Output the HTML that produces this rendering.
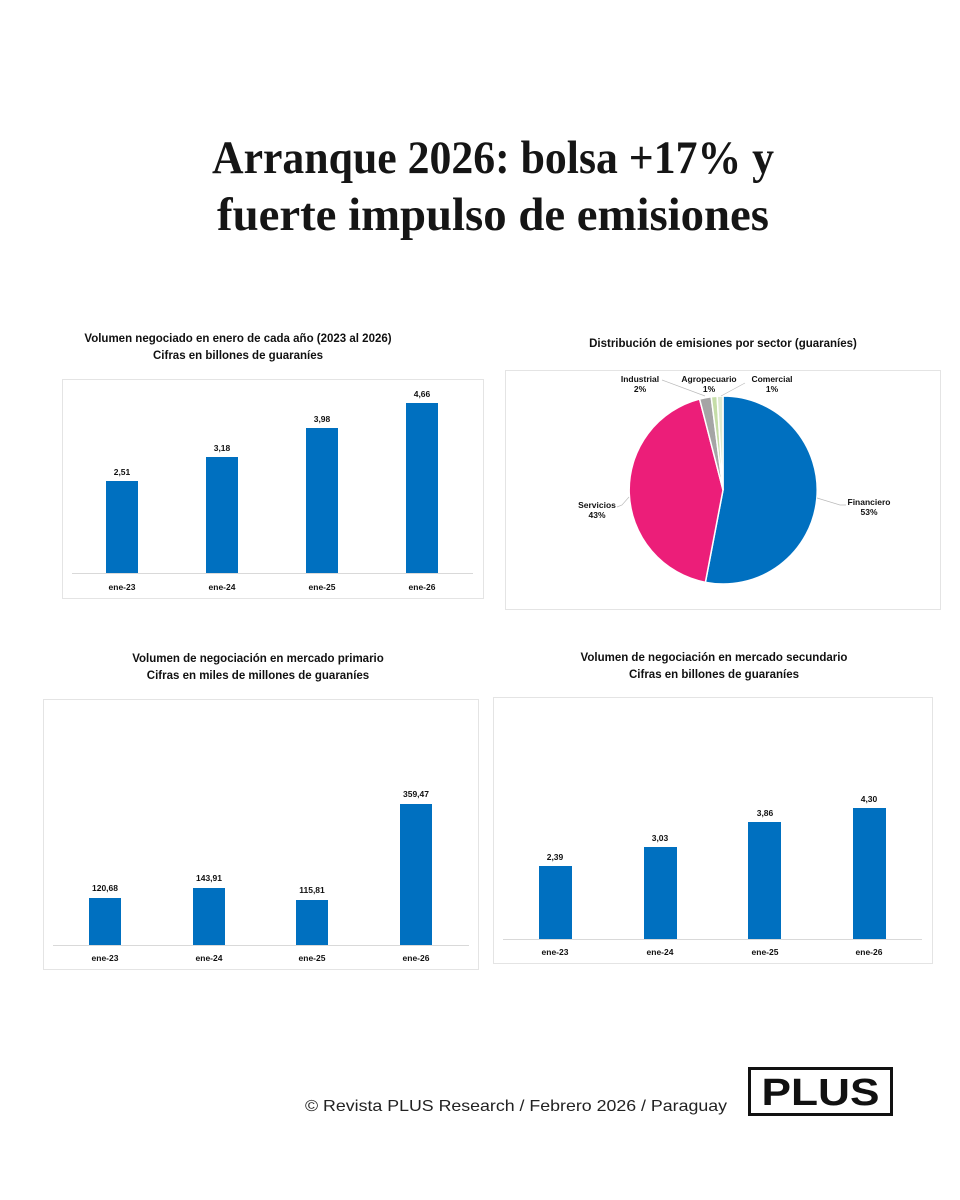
<!DOCTYPE html>
<html><head><meta charset="utf-8"><style>
html,body{margin:0;padding:0;background:#fff;}
svg{display:block}
.t{font-family:"Liberation Sans",Arial,sans-serif;font-weight:bold;fill:#111;}
</style></head><body>
<svg width="960" height="1200" viewBox="0 0 960 1200" xmlns="http://www.w3.org/2000/svg">
<rect width="960" height="1200" fill="#fff"/>
<g font-family="Liberation Serif,serif" font-weight="bold" font-size="47" fill="#151515" text-anchor="middle">
<text x="493" y="173" textLength="562" lengthAdjust="spacingAndGlyphs">Arranque 2026: bolsa +17% y</text>
<text x="493" y="230" textLength="552" lengthAdjust="spacingAndGlyphs">fuerte impulso de emisiones</text>
</g>

<!-- Chart 1 -->
<g class="t" font-size="11.5" text-anchor="middle">
<text x="238" y="342">Volumen negociado en enero de cada año (2023 al 2026)</text>
<text x="238" y="359">Cifras en billones  de guaraníes</text>
</g>
<rect x="62.5" y="379.5" width="421" height="219" fill="#fff" stroke="#e4e4e4"/>
<line x1="72" y1="573.5" x2="473" y2="573.5" stroke="#d9d9d9"/>
<g fill="#0070C0">
<rect x="106" y="481" width="32" height="92"/><rect x="206" y="457" width="32" height="116"/>
<rect x="306" y="428" width="32" height="145"/><rect x="406" y="403" width="32" height="170"/>
</g>
<g class="t" font-size="8.5" text-anchor="middle">
<text x="122" y="475">2,51</text><text x="222" y="451">3,18</text><text x="322" y="422">3,98</text><text x="422" y="397">4,66</text>
<text x="122" y="590">ene-23</text><text x="222" y="590">ene-24</text><text x="322" y="590">ene-25</text><text x="422" y="590">ene-26</text>
</g>

<!-- Chart 2 pie -->
<text class="t" x="723" y="347" font-size="11.5" text-anchor="middle">Distribución de emisiones por sector (guaraníes)</text>
<rect x="505.5" y="370.5" width="435" height="239" fill="#fff" stroke="#e4e4e4"/>
<g stroke="#fff" stroke-width="1.5">
<path d="M723,490 L723,396 A94,94 0 1 1 705.4,582.3 Z" fill="#0070C0"/>
<path d="M723,490 L705.4,582.3 A94,94 0 0 1 699.6,399 Z" fill="#EC1E79"/>
<path d="M723,490 L699.6,399 A94,94 0 0 1 711.2,396.7 Z" fill="#A5A5A5"/>
<path d="M723,490 L711.2,396.7 A94,94 0 0 1 717.1,396.2 Z" fill="#C5DDA8"/>
<path d="M723,490 L717.1,396.2 A94,94 0 0 1 723,396 Z" fill="#DDE9CF"/>
</g>
<g stroke="#bbb" stroke-width="0.7" fill="none">
<polyline points="817,498 840,505 846,505"/>
<polyline points="629,497 622,505 617,507"/>
<polyline points="662,380 705,396"/>
<polyline points="718,392 718,392"/>
<polyline points="745,383 721,396"/>
</g>
<g class="t" font-size="8.5" text-anchor="middle">
<text x="640" y="382">Industrial</text><text x="640" y="392">2%</text>
<text x="709" y="382">Agropecuario</text><text x="709" y="392">1%</text>
<text x="772" y="382">Comercial</text><text x="772" y="392">1%</text>
<text x="869" y="505">Financiero</text><text x="869" y="515">53%</text>
<text x="597" y="508">Servicios</text><text x="597" y="518">43%</text>
</g>

<!-- Chart 3 -->
<g class="t" font-size="11.5" text-anchor="middle">
<text x="258" y="662">Volumen de negociación en mercado primario</text>
<text x="258" y="679">Cifras en miles de millones de guaraníes</text>
</g>
<rect x="43.5" y="699.5" width="435" height="270" fill="#fff" stroke="#e4e4e4"/>
<line x1="53" y1="945.5" x2="469" y2="945.5" stroke="#d9d9d9"/>
<g fill="#0070C0">
<rect x="89" y="898" width="32" height="47"/><rect x="193" y="888" width="32" height="57"/>
<rect x="296" y="900" width="32" height="45"/><rect x="400" y="804" width="32" height="141"/>
</g>
<g class="t" font-size="8.5" text-anchor="middle">
<text x="105" y="891">120,68</text><text x="209" y="881">143,91</text><text x="312" y="893">115,81</text><text x="416" y="797">359,47</text>
<text x="105" y="961">ene-23</text><text x="209" y="961">ene-24</text><text x="312" y="961">ene-25</text><text x="416" y="961">ene-26</text>
</g>

<!-- Chart 4 -->
<g class="t" font-size="11.5" text-anchor="middle">
<text x="714" y="661">Volumen de negociación en mercado secundario</text>
<text x="714" y="678">Cifras en billones de guaraníes</text>
</g>
<rect x="493.5" y="697.5" width="439" height="266" fill="#fff" stroke="#e4e4e4"/>
<line x1="503" y1="939.5" x2="922" y2="939.5" stroke="#d9d9d9"/>
<g fill="#0070C0">
<rect x="539" y="866" width="33" height="73"/><rect x="644" y="847" width="33" height="92"/>
<rect x="748" y="822" width="33" height="117"/><rect x="853" y="808" width="33" height="131"/>
</g>
<g class="t" font-size="8.5" text-anchor="middle">
<text x="555" y="860">2,39</text><text x="660" y="841">3,03</text><text x="765" y="816">3,86</text><text x="869" y="802">4,30</text>
<text x="555" y="955">ene-23</text><text x="660" y="955">ene-24</text><text x="765" y="955">ene-25</text><text x="869" y="955">ene-26</text>
</g>

<!-- Footer -->
<text x="516" y="1111" font-family="Liberation Sans,Arial,sans-serif" font-size="16" fill="#222" text-anchor="middle" textLength="422" lengthAdjust="spacingAndGlyphs">© Revista PLUS Research / Febrero 2026 / Paraguay</text>
<rect x="749.5" y="1068.5" width="142" height="46" fill="#fff" stroke="#111" stroke-width="3"/>
<text x="820.5" y="1105" font-family="Liberation Sans,Arial,sans-serif" font-weight="bold" font-size="38" fill="#111" text-anchor="middle" textLength="118" lengthAdjust="spacingAndGlyphs">PLUS</text>
</svg>
</body></html>
